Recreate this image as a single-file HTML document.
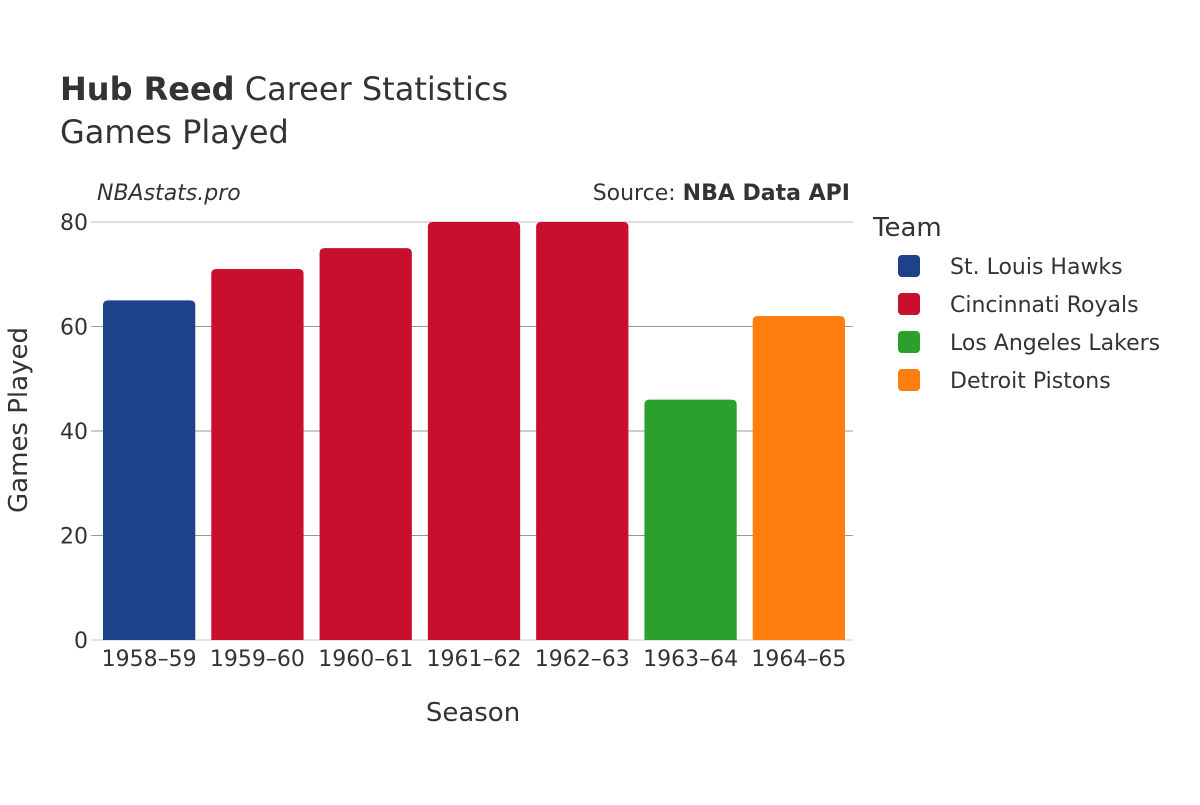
<!DOCTYPE html>
<html><head><meta charset="utf-8"><style>
body{margin:0;background:#fff;}
svg text{font-family:"DejaVu Sans","Liberation Sans",sans-serif;fill:#333;}
</style></head><body>
<svg width="1200" height="800" viewBox="0 0 1200 800">
<text x="60" y="100" font-size="32"><tspan font-weight="bold">Hub Reed</tspan> Career Statistics</text>
<text x="60" y="143" font-size="32">Games Played</text>
<text x="97" y="200" font-size="22" font-style="italic">NBAstats.pro</text>
<text x="850" y="200" font-size="22" text-anchor="end">Source: <tspan font-weight="bold">NBA Data API</tspan></text>
<g id="grid"></g>
<g id="bars"></g>
<g id="xt"></g>
<text x="473" y="721" font-size="26" text-anchor="middle">Season</text>
<text transform="translate(27,420) rotate(-90)" font-size="26" text-anchor="middle">Games Played</text>
<g>
<text x="873" y="236" font-size="26">Team</text>
<g id="leg"></g>
</g>
</svg>
<script>
const seasons=["1958–59","1959–60","1960–61","1961–62","1962–63","1963–64","1964–65"];
const games=[65,71,75,80,80,46,62];
const teamOf=[0,1,1,1,1,2,3];
const teams=["St. Louis Hawks","Cincinnati Royals","Los Angeles Lakers","Detroit Pistons"];
const colors=["#1d428a","#c8102e","#2ca02c","#ff7f0e"];
const yTicks=[0,20,40,60,80];
const NS="http://www.w3.org/2000/svg";
const x0=95,x1=853,yb=640,yt=222,ymax=80;
const y=v=>yb-(yb-yt)*v/ymax;
const band=(x1-x0)/seasons.length;
function mk(t,a,p){const e=document.createElementNS(NS,t);for(const k in a)e.setAttribute(k,a[k]);p.appendChild(e);return e;}
const grid=document.getElementById('grid');
yTicks.forEach(v=>{
 const l=mk('line',{x1:91,x2:x1,y1:y(v),y2:y(v),stroke:v===0?'#e4e4e4':(v===80?'#bbb':'#999'),'stroke-width':v===0?2:1},grid);
 
 
 const t=mk('text',{x:88,y:y(v)+8,'font-size':22,'text-anchor':'end'},grid);t.textContent=v;
 
 
});
const bars=document.getElementById('bars'),xt=document.getElementById('xt');
seasons.forEach((s,i)=>{
 const bx=x0+band*i+8,bw=band-16,top=y(games[i]),h=yb-top,r=5;
 const p=mk('path',{d:`M${bx},${yb}V${top+r}Q${bx},${top} ${bx+r},${top}H${bx+bw-r}Q${bx+bw},${top} ${bx+bw},${top+r}V${yb}Z`,fill:colors[teamOf[i]]},bars);
 
 
 const t=mk('text',{x:x0+band*(i+0.5),y:666,'font-size':22,'text-anchor':'middle'},xt);t.textContent=s;
 
 
});
const leg=document.getElementById('leg');
teams.forEach((n,i)=>{
 const cy=266+38*i;
 const r=mk('rect',{x:898,y:cy-11,width:22,height:22,rx:4,fill:colors[i]},leg);
 
 
 const t=mk('text',{x:950,y:cy+8,'font-size':22},leg);t.textContent=n;
 
 
});
</script>
</body></html>
